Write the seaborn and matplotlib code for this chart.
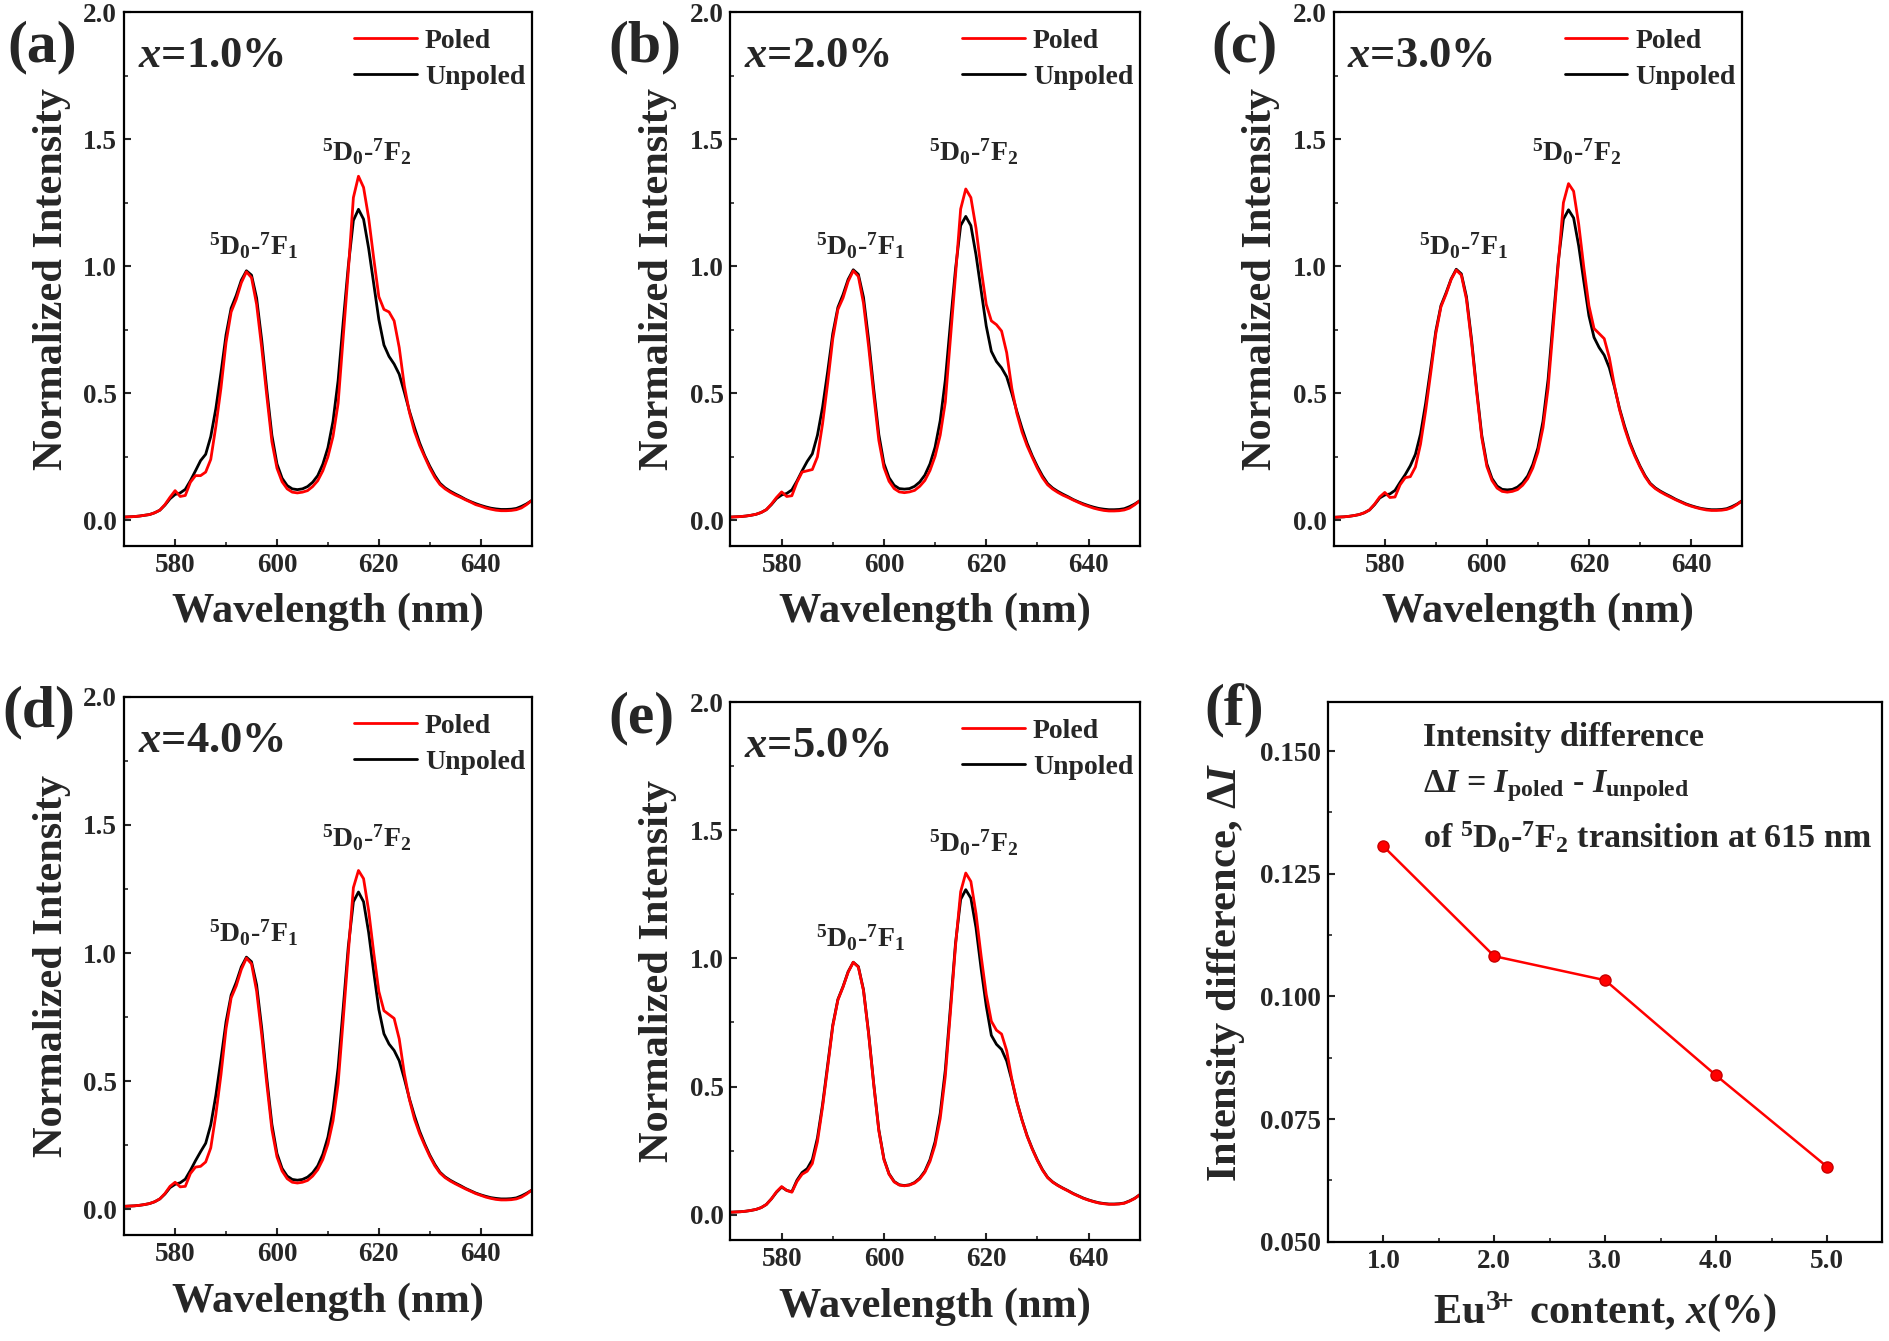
import numpy as np
import pandas as pd
import matplotlib
matplotlib.use("Agg")
import matplotlib.pyplot as plt
from matplotlib.lines import Line2D
from matplotlib.ticker import MultipleLocator, FormatStrFormatter
import seaborn as sns

# ---------------- data ----------------
WAVELENGTH = list(range(570, 651))  # nm

A_POLED = [0.013,0.014,0.015,0.017,0.020,0.023,0.030,0.040,0.062,0.091,
           0.117,0.094,0.098,0.150,0.176,0.176,0.190,0.240,0.370,0.520,
           0.700,0.820,0.870,0.935,0.978,0.955,0.850,0.680,0.490,0.310,
           0.205,0.152,0.124,0.111,0.108,0.111,0.117,0.133,0.156,0.195,
           0.250,0.330,0.460,0.720,0.980,1.270,1.354,1.310,1.190,1.030,
           0.880,0.830,0.820,0.785,0.680,0.530,0.425,0.350,0.295,0.250,
           0.206,0.169,0.141,0.124,0.111,0.100,0.091,0.081,0.072,0.062,
           0.056,0.049,0.044,0.040,0.038,0.038,0.039,0.042,0.049,0.062,
           0.078]
A_UNPOLED = [0.013,0.014,0.015,0.017,0.020,0.023,0.030,0.040,0.060,0.085,
             0.102,0.108,0.122,0.156,0.195,0.235,0.260,0.330,0.440,0.580,
             0.730,0.835,0.885,0.945,0.982,0.965,0.875,0.710,0.515,0.335,
             0.222,0.166,0.137,0.124,0.121,0.124,0.133,0.150,0.176,0.221,
             0.286,0.390,0.550,0.780,1.000,1.180,1.224,1.185,1.070,0.930,
             0.790,0.690,0.645,0.615,0.575,0.505,0.430,0.365,0.305,0.255,
             0.213,0.176,0.146,0.128,0.115,0.104,0.094,0.083,0.074,0.066,
             0.059,0.053,0.048,0.045,0.043,0.043,0.044,0.047,0.055,0.065,
             0.078]
B_POLED = [0.013,0.014,0.015,0.017,0.020,0.024,0.031,0.042,0.064,0.090,
           0.112,0.094,0.097,0.150,0.190,0.195,0.200,0.250,0.380,0.540,
           0.715,0.830,0.875,0.940,0.982,0.960,0.855,0.685,0.495,0.315,
           0.208,0.154,0.125,0.112,0.109,0.112,0.118,0.134,0.157,0.196,
           0.252,0.335,0.465,0.715,0.965,1.225,1.304,1.270,1.150,0.990,
           0.850,0.785,0.770,0.745,0.660,0.520,0.420,0.348,0.293,0.248,
           0.205,0.168,0.140,0.123,0.110,0.099,0.090,0.080,0.071,0.062,
           0.055,0.048,0.043,0.039,0.037,0.037,0.038,0.041,0.048,0.061,
           0.077]
B_UNPOLED = [0.013,0.014,0.015,0.017,0.020,0.024,0.031,0.042,0.062,0.086,
             0.100,0.106,0.120,0.155,0.195,0.232,0.262,0.335,0.445,0.585,
             0.735,0.838,0.888,0.948,0.986,0.968,0.878,0.712,0.518,0.338,
             0.224,0.168,0.138,0.125,0.123,0.125,0.134,0.151,0.178,0.222,
             0.288,0.392,0.552,0.775,0.990,1.160,1.196,1.160,1.045,0.905,
             0.765,0.665,0.625,0.600,0.565,0.500,0.428,0.362,0.303,0.254,
             0.212,0.175,0.145,0.127,0.114,0.103,0.093,0.082,0.073,0.065,
             0.058,0.052,0.047,0.044,0.042,0.042,0.043,0.046,0.054,0.064,
             0.077]
C_POLED = [0.012,0.013,0.014,0.016,0.019,0.023,0.030,0.041,0.064,0.092,
           0.110,0.090,0.092,0.140,0.168,0.172,0.210,0.300,0.430,0.580,
           0.735,0.840,0.890,0.948,0.985,0.965,0.870,0.700,0.505,0.325,
           0.212,0.157,0.127,0.114,0.111,0.114,0.121,0.138,0.164,0.206,
           0.268,0.365,0.520,0.760,1.010,1.250,1.325,1.295,1.165,0.995,
           0.845,0.755,0.735,0.715,0.640,0.530,0.435,0.362,0.302,0.253,
           0.210,0.172,0.143,0.125,0.112,0.101,0.091,0.081,0.072,0.063,
           0.056,0.050,0.045,0.041,0.039,0.039,0.040,0.043,0.050,0.062,
           0.077]
C_UNPOLED = [0.012,0.013,0.014,0.016,0.019,0.023,0.030,0.041,0.062,0.088,
             0.100,0.104,0.118,0.150,0.180,0.215,0.260,0.340,0.460,0.600,
             0.745,0.845,0.895,0.950,0.988,0.970,0.880,0.712,0.515,0.335,
             0.222,0.165,0.135,0.122,0.120,0.122,0.131,0.148,0.175,0.220,
             0.285,0.390,0.555,0.790,1.020,1.185,1.222,1.190,1.080,0.940,
             0.805,0.720,0.680,0.650,0.600,0.525,0.440,0.370,0.308,0.258,
             0.214,0.176,0.146,0.128,0.115,0.104,0.094,0.083,0.074,0.065,
             0.058,0.052,0.047,0.044,0.042,0.042,0.043,0.046,0.054,0.064,
             0.077]
D_POLED = [0.012,0.013,0.014,0.016,0.019,0.023,0.030,0.041,0.062,0.090,
           0.106,0.088,0.090,0.140,0.165,0.168,0.185,0.240,0.370,0.525,
           0.705,0.825,0.872,0.936,0.980,0.958,0.852,0.682,0.490,0.312,
           0.205,0.150,0.120,0.106,0.103,0.106,0.113,0.130,0.155,0.195,
           0.255,0.345,0.490,0.740,1.000,1.255,1.322,1.290,1.165,1.000,
           0.850,0.775,0.760,0.745,0.665,0.530,0.428,0.352,0.296,0.250,
           0.207,0.170,0.142,0.124,0.111,0.100,0.090,0.080,0.071,0.062,
           0.055,0.048,0.043,0.039,0.037,0.037,0.038,0.041,0.048,0.060,
           0.075]
D_UNPOLED = [0.012,0.013,0.014,0.016,0.019,0.023,0.030,0.041,0.060,0.085,
             0.098,0.104,0.118,0.152,0.190,0.225,0.258,0.330,0.445,0.585,
             0.732,0.836,0.886,0.946,0.984,0.966,0.876,0.708,0.512,0.332,
             0.218,0.160,0.130,0.117,0.114,0.117,0.126,0.143,0.170,0.215,
             0.282,0.388,0.552,0.785,1.025,1.200,1.238,1.200,1.080,0.925,
             0.780,0.685,0.645,0.620,0.580,0.510,0.432,0.365,0.305,0.256,
             0.212,0.175,0.145,0.127,0.114,0.103,0.093,0.082,0.073,0.064,
             0.057,0.051,0.046,0.043,0.041,0.041,0.042,0.045,0.053,0.063,
             0.075]
E_POLED = [0.010,0.011,0.012,0.014,0.017,0.021,0.028,0.040,0.062,0.090,
           0.110,0.095,0.088,0.130,0.158,0.170,0.200,0.285,0.420,0.575,
           0.735,0.838,0.888,0.946,0.985,0.966,0.875,0.706,0.508,0.328,
           0.215,0.158,0.128,0.116,0.113,0.116,0.124,0.140,0.166,0.208,
           0.272,0.375,0.540,0.790,1.050,1.260,1.333,1.300,1.175,1.010,
           0.860,0.755,0.720,0.705,0.640,0.530,0.440,0.368,0.306,0.256,
           0.212,0.174,0.145,0.127,0.114,0.103,0.093,0.082,0.073,0.064,
           0.057,0.051,0.046,0.043,0.041,0.041,0.042,0.045,0.053,0.063,
           0.078]
E_UNPOLED = [0.010,0.011,0.012,0.014,0.017,0.021,0.028,0.040,0.062,0.088,
             0.108,0.095,0.090,0.135,0.165,0.180,0.215,0.300,0.430,0.585,
             0.740,0.840,0.890,0.948,0.985,0.968,0.878,0.710,0.512,0.332,
             0.218,0.160,0.130,0.117,0.114,0.117,0.126,0.143,0.170,0.215,
             0.285,0.395,0.565,0.810,1.060,1.230,1.268,1.235,1.120,0.960,
             0.815,0.700,0.665,0.645,0.600,0.525,0.440,0.370,0.308,0.258,
             0.214,0.176,0.146,0.128,0.115,0.104,0.094,0.083,0.074,0.065,
             0.058,0.052,0.047,0.044,0.042,0.042,0.043,0.046,0.054,0.064,
             0.078]

PANEL_LETTERS = ["(a)", "(b)", "(c)", "(d)", "(e)"]
CONTENT_LABELS = ["1.0%", "2.0%", "3.0%", "4.0%", "5.0%"]
POLED_SERIES = [A_POLED, B_POLED, C_POLED, D_POLED, E_POLED]
UNPOLED_SERIES = [A_UNPOLED, B_UNPOLED, C_UNPOLED, D_UNPOLED, E_UNPOLED]

EU_CONTENT = [1.0, 2.0, 3.0, 4.0, 5.0]
DELTA_I = [0.1306, 0.1082, 0.1033, 0.0839, 0.0653]

# ---------------- style ----------------
sns.set_style("ticks")
plt.rcParams["font.family"] = ["Liberation Serif", "DejaVu Serif"]
plt.rcParams["font.weight"] = "bold"
plt.rcParams["axes.labelweight"] = "bold"
plt.rcParams["mathtext.fontset"] = "custom"
plt.rcParams["mathtext.rm"] = "Liberation Serif:bold"
plt.rcParams["mathtext.bf"] = "Liberation Serif:bold"
plt.rcParams["mathtext.it"] = "Liberation Serif:italic:bold"
plt.rcParams["xtick.direction"] = "in"
plt.rcParams["ytick.direction"] = "in"

RED = "#FF0000"
BLACK = "#000000"
TICK_FS = 19.5
YLAB_FS = 30.5
XLAB_FS = 30.5
LETTER_FS = 43

fig = plt.figure(figsize=(18.9, 13.41), dpi=100)

positions = [
    [0.0657, 0.593, 0.2156, 0.398],
    [0.3865, 0.593, 0.2165, 0.398],
    [0.7057, 0.593, 0.2160, 0.398],
    [0.0657, 0.079, 0.2156, 0.4015],
    [0.3865, 0.075, 0.2165, 0.4015],
]
letter_pos = [(0.004, 0.965), (0.322, 0.965), (0.641, 0.965),
              (0.001, 0.469), (0.322, 0.464)]


def style_axes(ax):
    for s in ax.spines.values():
        s.set_linewidth(1.6)
        s.set_color("black")
    ax.tick_params(which="major", length=5, width=1.5, labelsize=TICK_FS,
                   top=False, right=False, pad=5)
    ax.tick_params(which="minor", length=3, width=1.2, top=False, right=False)
    for lab in ax.get_xticklabels() + ax.get_yticklabels():
        lab.set_fontweight("bold")


for i in range(5):
    ax = fig.add_axes(positions[i])
    df = pd.DataFrame({
        "Wavelength": WAVELENGTH * 2,
        "Intensity": UNPOLED_SERIES[i] + POLED_SERIES[i],
        "State": ["Unpoled"] * len(WAVELENGTH) + ["Poled"] * len(WAVELENGTH),
    })
    sns.lineplot(data=df, x="Wavelength", y="Intensity", hue="State",
                 hue_order=["Unpoled", "Poled"],
                 palette={"Unpoled": BLACK, "Poled": RED},
                 estimator=None, sort=False, linewidth=2.0, legend=False, ax=ax)
    ax.set_xlim(570, 650)
    ax.set_ylim(-0.1, 2.0)
    ax.xaxis.set_major_locator(MultipleLocator(20))
    ax.xaxis.set_minor_locator(MultipleLocator(10))
    ax.yaxis.set_major_locator(MultipleLocator(0.5))
    ax.yaxis.set_minor_locator(MultipleLocator(0.25))
    ax.yaxis.set_major_formatter(FormatStrFormatter("%.1f"))
    ax.set_xlabel("Wavelength (nm)", fontsize=XLAB_FS, fontweight="bold", labelpad=11)
    ax.set_ylabel("Normalized Intensity", fontsize=YLAB_FS, fontweight="bold", labelpad=9)
    style_axes(ax)

    handles = [Line2D([], [], color=RED, lw=2.0), Line2D([], [], color=BLACK, lw=2.0)]
    ax.legend(handles, ["Poled", "Unpoled"], loc="upper right",
              bbox_to_anchor=(1.005, 0.985), frameon=False,
              prop={"family": "Liberation Serif", "weight": "bold", "size": 20},
              handlelength=2.25, handletextpad=0.3, labelspacing=0.38,
              borderpad=0.2, borderaxespad=0.1)

    ax.text(0.033, 0.897, r"$x$=" + CONTENT_LABELS[i], transform=ax.transAxes,
            fontsize=32, fontweight="bold", ha="left", va="baseline")
    ax.text(595.4, 1.045, r"$^{5}$D$_{0}$-$^{7}$F$_{1}$", fontsize=20,
            fontweight="bold", ha="center", va="baseline")
    ax.text(617.6, 1.415, r"$^{5}$D$_{0}$-$^{7}$F$_{2}$", fontsize=20,
            fontweight="bold", ha="center", va="baseline")
    fig.text(letter_pos[i][0], letter_pos[i][1], PANEL_LETTERS[i], fontsize=LETTER_FS,
             fontweight="bold", ha="left", va="center")

# ---------------- panel f ----------------
axf = fig.add_axes([0.7026, 0.074, 0.2934, 0.4025])
dff = pd.DataFrame({"content": EU_CONTENT, "dI": DELTA_I})
sns.lineplot(data=dff, x="content", y="dI", color=RED, linewidth=1.8,
             marker="o", markersize=8, markerfacecolor=RED,
             markeredgecolor="#C80000", markeredgewidth=1.0, ax=axf)
axf.set_xlim(0.5, 5.5)
axf.set_ylim(0.05, 0.16)
axf.xaxis.set_major_locator(MultipleLocator(1.0))
axf.xaxis.set_minor_locator(MultipleLocator(0.5))
axf.yaxis.set_major_locator(MultipleLocator(0.025))
axf.yaxis.set_minor_locator(MultipleLocator(0.0125))
axf.xaxis.set_major_formatter(FormatStrFormatter("%.1f"))
axf.yaxis.set_major_formatter(FormatStrFormatter("%.3f"))
axf.set_xlabel(r"Eu$^{3\!\!+}$ content, $x$(%)", fontsize=XLAB_FS, fontweight="bold", labelpad=11)
axf.set_ylabel(r"Intensity difference, $\Delta I$", fontsize=YLAB_FS, fontweight="bold", labelpad=9)
style_axes(axf)
axf.text(0.171, 0.919, "Intensity difference", transform=axf.transAxes,
         fontsize=24.5, fontweight="bold", ha="left", va="baseline")
axf.text(0.171, 0.833, r"$\Delta I$ = $I$$_{\rm poled}$ - $I$$_{\rm unpoled}$",
         transform=axf.transAxes, fontsize=24.5, fontweight="bold",
         ha="left", va="baseline")
axf.text(0.171, 0.73, r"of $^{5}$D$_{0}$-$^{7}$F$_{2}$ transition at 615 nm",
         transform=axf.transAxes, fontsize=24.5, fontweight="bold",
         ha="left", va="baseline")
fig.text(0.6375, 0.470, "(f)", fontsize=LETTER_FS, fontweight="bold", ha="left", va="center")

fig.savefig("out.png", dpi=100)
